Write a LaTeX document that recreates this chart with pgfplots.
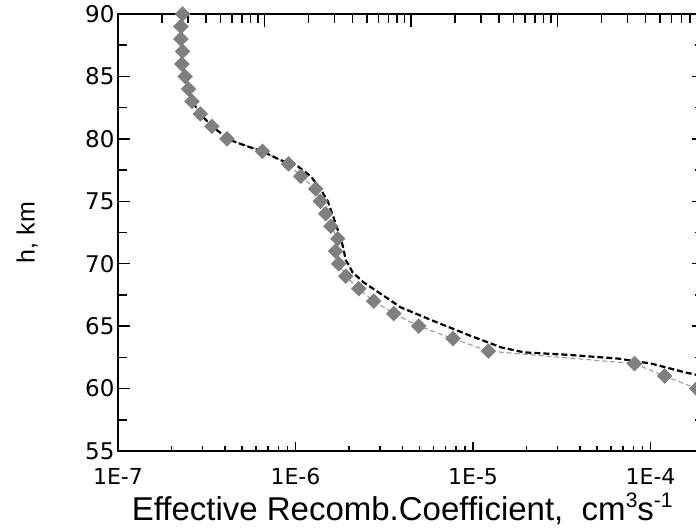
\documentclass[border=0pt]{standalone}
\usepackage{fontspec}
\setmainfont{Liberation Sans}
\newfontfamily\tickfont{DejaVu Sans}
\usepackage{pgfplots}
\pgfplotsset{compat=1.18}
\usetikzlibrary{calc}
\definecolor{diamgray}{HTML}{7F7F7F}
\definecolor{linegray}{HTML}{9A9A9A}
\newcommand\sups[1]{\raisebox{0.42em}{\fontsize{21}{21}\selectfont #1}}

\pgfplotsset{
  frame/.style={
    width=586pt, height=437pt, scale only axis,
    ymin=55, ymax=90,
    axis line style={line width=1.5pt},
    tick style={black, line width=1.5pt},
    tick align=inside,
  },
}

\begin{document}
\begin{tikzpicture}
% secondary log scale on top, no labels
\begin{axis}[frame,
  xmode=log, xmin=1, xmax=1e4,
  hide y axis,
  xtick pos=right,
  xtick={10,100,1000},
  minor xtick={2,3,4,5,6,7,8,9,20,30,40,50,60,70,80,90,200,300,400,500,600,700,800,900,2000,3000,4000,5000,6000,7000,8000,9000},
  xticklabels={},
  major tick length=13pt, minor tick length=9pt,
]
\end{axis}

% height scale, ticks on both sides
\begin{axis}[frame,
  xmin=0, xmax=1,
  hide x axis,
  ytick pos=both,
  ytick={55,60,65,70,75,80,85,90},
  yticklabels={55,60,65,70,75,80,85,90},
  minor ytick={57.5,62.5,67.5,72.5,77.5,82.5,87.5},
  major tick length=12.5pt, minor tick length=9.5pt,
  yticklabel style={font=\tickfont\fontsize{23}{27}\selectfont},
  ylabel={h, km},
  ylabel style={at={(axis description cs:-0.155,0.5)}, anchor=center,
    font=\fontsize{25}{30}\selectfont},
]
\end{axis}

% main axis with the data
\begin{axis}[frame,
  xmode=log, xmin=1e-7, xmax=2e-4,
  ytick=\empty,
  xtick pos=left,
  xtick={1e-7,1e-6,1e-5,1e-4},
  xticklabels={1E-7,1E-6,1E-5,1E-4},
  minor xtick={2e-7,3e-7,4e-7,5e-7,6e-7,7e-7,8e-7,9e-7,2e-6,3e-6,4e-6,5e-6,6e-6,7e-6,8e-6,9e-6,2e-5,3e-5,4e-5,5e-5,6e-5,7e-5,8e-5,9e-5},
  major tick length=9pt, minor tick length=5pt,
  xticklabel style={font=\tickfont\fontsize{22}{26}\selectfont, anchor=base, yshift=-34pt},
  xlabel={Effective Recomb.Coefficient,\ \ cm\sups{3}s\sups{-1}},
  xlabel style={at={(axis description cs:0.485,-0.16)}, anchor=base,
    font=\fontsize{33}{39}\selectfont},
]
\addplot[linegray, line width=1.1pt, dash pattern=on 5pt off 3pt,
  mark=square*, mark size=5.3pt,
  mark options={solid, rotate=45, fill=diamgray, draw=diamgray, line width=0.3pt}]
  table {
x h
2.31e-7 90
2.26e-7 89
2.26e-7 88
2.31e-7 87
2.29e-7 86
2.39e-7 85
2.50e-7 84
2.61e-7 83
2.91e-7 82
3.38e-7 81
4.11e-7 80
6.51e-7 79
9.13e-7 78
1.07e-6 77
1.30e-6 76
1.38e-6 75
1.48e-6 74
1.58e-6 73
1.73e-6 72
1.68e-6 71
1.75e-6 70
1.92e-6 69
2.27e-6 68
2.76e-6 67
3.58e-6 66
4.95e-6 65
7.71e-6 64
1.22e-5 63
8.12e-5 62
1.20e-4 61
1.82e-4 60
};
\addplot[black, line width=2.2pt, dash pattern=on 6pt off 3pt] table {
x h
2.31e-7 90
2.27e-7 88.5
2.29e-7 86.5
2.35e-7 85.3
2.48e-7 84
2.62e-7 83
2.91e-7 82
3.38e-7 81
4.10e-7 80.1
4.29e-7 79.9
5.35e-7 79.4
6.51e-7 79.0
8.23e-7 78.3
1.03e-6 77.8
1.22e-6 77.0
1.38e-6 76.0
1.52e-6 75.0
1.62e-6 73.9
1.73e-6 72.7
1.84e-6 71.5
1.92e-6 70.3
2.10e-6 69.3
2.42e-6 68.5
2.94e-6 67.7
3.92e-6 66.5
6.02e-6 65.4
9.38e-6 64.3
1.44e-5 63.3
1.94e-5 62.9
3.44e-5 62.7
6.59e-5 62.4
1.01e-4 62.0
1.56e-4 61.3
2.10e-4 60.9
};
\coordinate (sw) at (rel axis cs:0,0);
\coordinate (ne) at (rel axis cs:1,1);
\end{axis}
\pgfresetboundingbox
\path ($(sw)+(-118pt,-78pt)$) rectangle ($(ne)+(-8pt,14pt)$);
\end{tikzpicture}
\end{document}
